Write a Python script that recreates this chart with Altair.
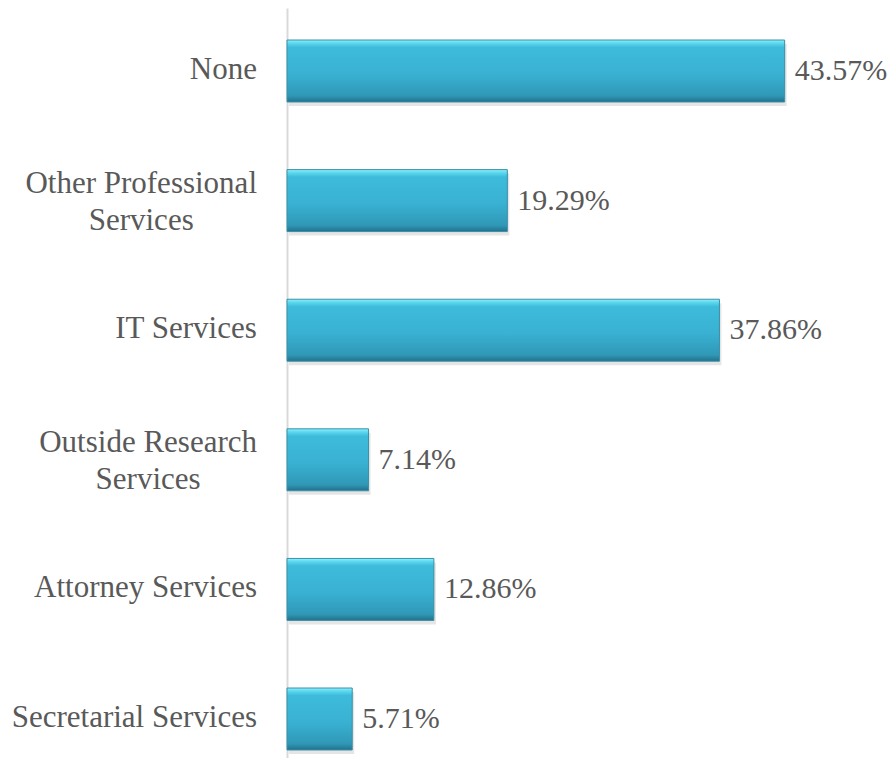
import altair as alt
import pandas as pd

categories = [
    "None",
    "Other Professional\nServices",
    "IT Services",
    "Outside Research\nServices",
    "Attorney Services",
    "Secretarial Services",
]
values = [43.57, 19.29, 37.86, 7.14, 12.86, 5.71]

FONT = "Liberation Serif, Times New Roman, serif"
FS = 31
FS_VAL = 30
# Times advance widths (per 1000 em) for centring multi-line labels
TW = {" ": 250, "A": 722, "I": 333, "N": 722, "O": 722, "P": 556, "R": 667, "S": 556, "T": 611,
      "a": 444, "c": 444, "d": 500, "e": 444, "f": 333, "h": 500, "i": 278, "l": 278, "n": 500,
      "o": 500, "r": 333, "s": 389, "t": 278, "u": 500, "v": 500, "y": 500}


def text_w(s):
    return max(sum(TW.get(ch, 500) for ch in line) for line in s.split("\n")) * FS / 1000.0


LABEL_GAP = 30
lx = [-LABEL_GAP - text_w(c) / 2 for c in categories]

df = pd.DataFrame({"category": categories, "value": values, "lx": lx})

W, H = 514, 750
YOFF = 12

y = alt.Y(
    "category:N",
    sort=categories,
    scale=alt.Scale(paddingInner=0.522, paddingOuter=0.1545, round=False),
    axis=alt.Axis(labels=False, ticks=False, title=None, grid=False,
                  domainColor="#D9D9D9", domainWidth=2),
)
x = alt.X("value:Q", scale=alt.Scale(domain=[0, 45]), axis=None)

grad = alt.Gradient(
    gradient="linear",
    x1=0, x2=0, y1=0, y2=1,
    stops=[
        alt.GradientStop(color="#8FF0FC", offset=0),
        alt.GradientStop(color="#5CD8EF", offset=0.05),
        alt.GradientStop(color="#3EBBDB", offset=0.12),
        alt.GradientStop(color="#39B1D2", offset=0.55),
        alt.GradientStop(color="#3098B7", offset=0.9),
        alt.GradientStop(color="#22708A", offset=1),
    ],
)

base = alt.Chart(df)

shadow = base.mark_bar(color="#000000", opacity=0.10, yOffset=YOFF + 4, xOffset=2).encode(x=x, y=y)
bars = base.mark_bar(color=grad, stroke="#3A8FA6", strokeWidth=1, yOffset=YOFF).encode(x=x, y=y)

vals = base.transform_calculate(
    vlabel="format(datum.value, '.2f') + '%'"
).mark_text(
    align="left", baseline="middle", dx=10, dy=YOFF, fontSize=FS_VAL, font=FONT, color="#595959"
).encode(x=x, y=y, text="vlabel:N")

txt_style = dict(align="center", baseline="middle", lineBreak="\n", lineHeight=37,
                 fontSize=FS, font=FONT, color="#595959")
cat_enc = dict(x=alt.X("lx:Q", scale=None, axis=None), y=y, text="category:N")

cats_single = base.transform_filter(
    "indexof(datum.category, '\\n') < 0"
).mark_text(dy=YOFF - 1, **txt_style).encode(**cat_enc)

cats_multi = base.transform_filter(
    "indexof(datum.category, '\\n') >= 0"
).mark_text(dy=YOFF - 17, **txt_style).encode(**cat_enc)

chart = alt.layer(shadow, bars, vals, cats_single, cats_multi).properties(
    width=W, height=H,
    autosize=alt.AutoSizeParams(type="none"),
    padding={"left": 279, "top": 0, "right": 87, "bottom": 0},
).configure_view(stroke=None)

chart.save("out.html", embed_options={"renderer": "svg", "actions": False})
